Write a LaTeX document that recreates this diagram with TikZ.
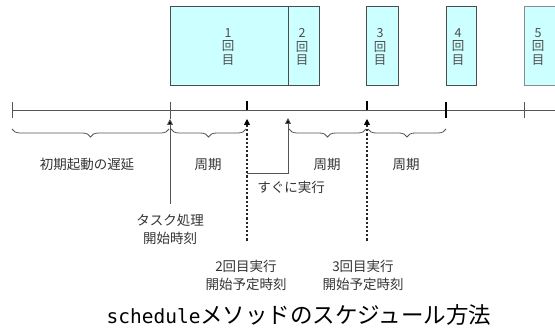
\documentclass[tikz,border=0pt]{standalone}
\usepackage{fontspec}
\newfontfamily\jp{Noto Sans CJK JP}
\newfontfamily\capmono{DejaVu Sans Mono}
\usetikzlibrary{decorations.pathreplacing,arrows.meta}
\definecolor{boxfill}{HTML}{CCFFFF}
\definecolor{linegray}{HTML}{555555}
\begin{document}
\begin{tikzpicture}[x=1pt,y=-1pt,
  box/.style={draw=black!70,fill=boxfill,line width=1.1pt,anchor=north west,inner sep=0pt},
  num/.style={font=\jp\fontsize{12.5}{13.5}\selectfont,align=center,text=black!70,inner sep=0pt},
  lbl/.style={font=\jp\fontsize{13.5}{18}\selectfont,align=center,text=black!80,inner sep=0pt},
  tl/.style={draw=linegray,line width=0.9pt},
  thick tick/.style={draw=black,line width=1.6pt},
  uparrow/.style={-{Triangle[length=6pt,width=6pt,fill=black]}},
  dashline/.style={draw=black!85,line width=1.3pt,dash pattern=on 2.2pt off 2pt},
  brc/.style={draw=linegray,line width=0.8pt,decorate,decoration={brace,mirror,amplitude=8pt}}]
\useasboundingbox (0,0) rectangle (555,328);
% boxes
\node[box,minimum width=118pt,minimum height=79pt] (b1) at (170,6) {};
\node[box,minimum width=31pt,minimum height=79pt] (b2) at (288,6) {};
\node[box,minimum width=32pt,minimum height=79pt] (b3) at (366,6) {};
\node[box,minimum width=30pt,minimum height=79pt] (b4) at (446,6) {};
\node[box,minimum width=40pt,minimum height=79pt,draw=black!45] (b5) at (524,6) {};
\node[num] (n1) at (228,47) {1\\回\\目};
\node[num] (n2) at (302,47) {2\\回\\目};
\node[num] (n3) at (380,47) {3\\回\\目};
\node[num] (n4) at (458,47) {4\\回\\目};
\node[num] (n5) at (538,47) {5\\回\\目};
% timeline
\coordinate (t0) at (12,110);
\coordinate (tend) at (556,110);
\draw[tl] (t0) -- (tend);
\coordinate (k0a) at (12,102); \coordinate (k0b) at (12,118);
\draw[tl] (k0a) -- (k0b);
\coordinate (k4a) at (446,102); \coordinate (k4b) at (446,118);
\draw[thick tick] (k4a) -- (k4b);
\coordinate (k5a) at (524,102); \coordinate (k5b) at (524,118);
\draw[tl] (k5a) -- (k5b);
% task start
\coordinate (s1top) at (170,102); \coordinate (s1tip) at (170,119); \coordinate (s1bot) at (170,204);
\draw[tl] (s1top) -- (s1tip);
\draw[tl,uparrow] (s1bot) -- (s1tip);
% second run
\coordinate (s2top) at (247,101); \coordinate (s2mid) at (247,110); \coordinate (s2tip) at (247,119);
\coordinate (s2d) at (247,125); \coordinate (s2bot) at (247,241);
\draw[thick tick] (s2top) -- (s2mid);
\draw[black,line width=0.9pt,uparrow] (s2d) -- (s2tip);
\draw[dashline] (s2d) -- (s2bot);
% third run
\coordinate (s3top) at (367,101); \coordinate (s3mid) at (367,110); \coordinate (s3tip) at (367,119);
\coordinate (s3d) at (367,125); \coordinate (s3bot) at (367,241);
\draw[thick tick] (s3top) -- (s3mid);
\draw[black,line width=0.9pt,uparrow] (s3d) -- (s3tip);
\draw[dashline] (s3d) -- (s3bot);
% immediate run
\coordinate (i0) at (247,173); \coordinate (i1) at (288,173); \coordinate (itip) at (288,118);
\draw[tl,uparrow] (i0) -- (i1) -- (itip);
% braces
\coordinate (r0) at (12,129); \coordinate (r1) at (169,129);
\coordinate (r2) at (171,129); \coordinate (r3) at (246,129);
\coordinate (r4) at (289,129); \coordinate (r5) at (366,129);
\coordinate (r6) at (368,129); \coordinate (r7) at (446,129);
\draw[brc] (r0) -- (r1);
\draw[brc] (r2) -- (r3);
\draw[brc] (r4) -- (r5);
\draw[brc] (r6) -- (r7);
% labels
\node[lbl] (l0) at (87,164) {初期起動の遅延};
\node[lbl] (l1) at (208,164) {周期};
\node[lbl] (l2) at (327,164) {周期};
\node[lbl] (l3) at (406,164) {周期};
\node[lbl] (l4) at (291,187) {すぐに実行};
\node[lbl] (l5) at (170,229) {タスク処理\\開始時刻};
\node[lbl] (l6) at (246,275) {2回目実行\\開始予定時刻};
\node[lbl] (l7) at (363,275) {3回目実行\\開始予定時刻};
\node[font=\jp\fontsize{22.5}{24}\selectfont,inner sep=0pt] (cap) at (299,315) {{\capmono\fontsize{19.5}{24}\selectfont schedule}メソッドのスケジュール方法};
\end{tikzpicture}
\end{document}
